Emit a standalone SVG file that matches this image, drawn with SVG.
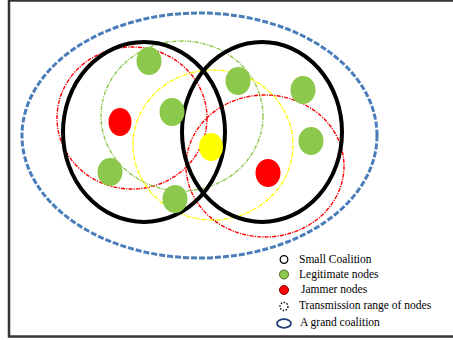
<svg xmlns="http://www.w3.org/2000/svg" width="453" height="340" viewBox="0 0 453 340">
<style>
.frame{fill:#fff;stroke:#333;stroke-width:2.5}
.grand{fill:none;stroke:#4a7ebb;stroke-width:3;stroke-dasharray:6 2}
.coal{fill:none;stroke:#000;stroke-width:4}
.rng{fill:none;stroke-width:1.4;stroke-dasharray:4 1.2 1.2 1.2}
.r{stroke:#ff0000}.g{stroke:#8cc84b}.y{stroke:#ffff00}
.leg{fill:#8cc84b}.jam{fill:#ff0000}.mid{fill:#ffff00}
text{font-family:"Liberation Serif","Times New Roman",serif;font-size:11.5px;fill:#000}
</style>
<rect class="frame" x="9" y="0.5" width="452" height="336"/>
<g id="connectors">
<ellipse id="grand-coalition" class="grand" cx="199.5" cy="135.5" rx="177.5" ry="122.5"/>
<ellipse class="rng r" cx="132" cy="118" rx="75" ry="71"/>
<ellipse class="rng g" cx="182" cy="116" rx="81" ry="75"/>
<ellipse class="rng y" cx="213" cy="145" rx="80" ry="75"/>
<ellipse class="rng r" cx="265" cy="166" rx="79" ry="71"/>
<ellipse id="coalition-left" class="coal" cx="144" cy="132" rx="81" ry="90"/>
<ellipse id="coalition-right" class="coal" cx="262" cy="132" rx="80" ry="90"/>
</g>
<g id="n1"><ellipse class="leg" cx="149" cy="61" rx="12.5" ry="14"/></g>
<g id="n2"><ellipse class="leg" cx="172" cy="112" rx="12.5" ry="14"/></g>
<g id="n3"><ellipse class="jam" cx="120" cy="122" rx="11.5" ry="14"/></g>
<g id="n4"><ellipse class="mid" cx="211" cy="147" rx="12" ry="14"/></g>
<g id="n5"><ellipse class="leg" cx="110" cy="172" rx="12.5" ry="14"/></g>
<g id="n6"><ellipse class="leg" cx="175" cy="199" rx="12.5" ry="14"/></g>
<g id="n7"><ellipse class="leg" cx="238" cy="81" rx="12.5" ry="14"/></g>
<g id="n8"><ellipse class="leg" cx="303" cy="90" rx="12.5" ry="14"/></g>
<g id="n9"><ellipse class="leg" cx="311" cy="141" rx="12.5" ry="14"/></g>
<g id="n10"><ellipse class="jam" cx="268" cy="173" rx="12.5" ry="14"/></g>
<g id="legend">
<circle cx="284" cy="259.5" r="3.8" fill="#fff" stroke="#000" stroke-width="1.3"/>
<text x="299" y="263">Small Coalition</text>
<circle cx="284" cy="274.5" r="4.5" fill="#8cc84b" stroke="#4a6a2a" stroke-width="1"/>
<text x="299" y="278">Legitimate nodes</text>
<circle cx="284" cy="290" r="4.5" fill="#ff0000" stroke="#8a0000" stroke-width="1"/>
<text x="301" y="293">Jammer nodes</text>
<circle cx="284" cy="306.5" r="4" fill="none" stroke="#000" stroke-width="1.3" stroke-dasharray="1.5 1.5"/>
<text x="299" y="309">Transmission range of nodes</text>
<ellipse cx="284" cy="323.5" rx="7" ry="4.3" fill="none" stroke="#1f3f7a" stroke-width="1.8"/>
<text x="300" y="326">A grand coalition</text>
</g>
</svg>
